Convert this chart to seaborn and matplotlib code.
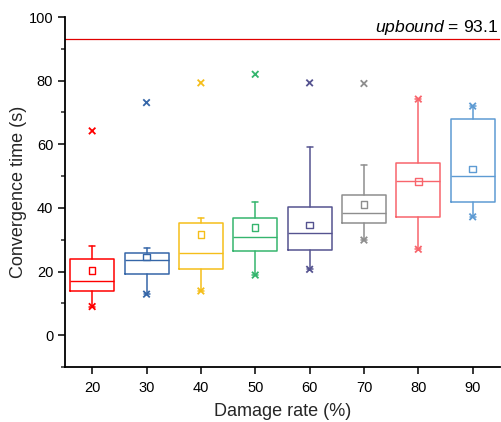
import matplotlib
matplotlib.use("Agg")
import matplotlib.pyplot as plt
import seaborn as sns
import pandas as pd

# Convergence time statistics for each damage rate (s)
rates = [20, 30, 40, 50, 60, 70, 80, 90]
q1 = [13.9, 19.1, 20.9, 26.5, 26.7, 35.2, 37.0, 41.9]
medians = [17.1, 23.6, 25.7, 30.9, 32.0, 38.4, 48.6, 49.9]
q3 = [23.8, 25.9, 35.4, 36.9, 40.3, 44.1, 54.0, 67.8]
means = [20.4, 24.6, 31.7, 33.9, 34.6, 41.0, 48.3, 52.2]
whisker_low = [9.0, 12.9, 13.9, 18.9, 20.7, 29.9, 27.0, 37.2]
whisker_high = [28.1, 27.5, 36.9, 41.9, 59.2, 53.5, 74.2, 72.0]
minimums = [9.0, 12.9, 13.9, 18.9, 20.7, 29.9, 27.0, 37.2]
maximums = [64.2, 73.1, 79.3, 82.0, 79.3, 79.1, 74.2, 72.0]
upbound = 93.1

colors = ["#FF0000", "#3566A8", "#F5BE1A", "#35B56E",
          "#555390", "#8E8E8E", "#F8656C", "#5E9BD3"]

sns.set_theme(style="ticks")
plt.rcParams["font.family"] = ["Liberation Sans", "DejaVu Sans"]
plt.rcParams["mathtext.fontset"] = "custom"
plt.rcParams["mathtext.rm"] = "Liberation Sans"
plt.rcParams["mathtext.it"] = "Liberation Sans:italic"

fig = plt.figure(figsize=(5.01, 4.22), dpi=100)
ax = fig.add_axes([0.1297, 0.1303, 0.868, 0.8294])

stats = []
for i, r in enumerate(rates):
    stats.append(dict(med=medians[i], q1=q1[i], q3=q3[i],
                      whislo=whisker_low[i], whishi=whisker_high[i],
                      mean=means[i], fliers=[], label=str(r)))

for i, (r, st) in enumerate(zip(rates, stats)):
    c = colors[i]
    ax.bxp([st], positions=[r], widths=8.1, showmeans=False,
           showfliers=False, capwidths=[1.1],
           boxprops=dict(color=c, linewidth=1.1),
           medianprops=dict(color=c, linewidth=1.0),
           whiskerprops=dict(color=c, linewidth=1.1),
           capprops=dict(color=c, linewidth=1.1),
           manage_ticks=False)

summary = pd.DataFrame({"rate": rates, "mean": means,
                        "min": minimums, "max": maximums})
palette = dict(zip(rates, colors))

# mean markers: open squares
for i, r in enumerate(rates):
    sns.scatterplot(x=[r], y=[means[i]], marker="s", s=22,
                    facecolors="none", edgecolors=colors[i],
                    linewidth=1.0, ax=ax, zorder=5)

# extreme values
for col in ["min", "max"]:
    sns.scatterplot(data=summary, x="rate", y=col, hue="rate",
                    palette=palette, marker="x", s=22, linewidth=1.3,
                    legend=False, ax=ax, zorder=5)

ax.axhline(upbound, color="#E00000", linewidth=0.9, zorder=1)
ax.text(94.8, 95.3, r"$\it{upbound}$ = " + f"{upbound}", ha="right",
        va="baseline", fontsize=12.6, color="black")

ax.set_xlim(15, 95)
ax.set_ylim(-10, 100)
ax.set_xticks(rates)
ax.set_xticklabels([str(r) for r in rates])
ax.set_yticks([0, 20, 40, 60, 80, 100])
ax.set_yticks([-10, 10, 30, 50, 70, 90], minor=True)
ax.set_xlabel("Damage rate (%)", fontsize=13)
ax.set_ylabel("Convergence time (s)", fontsize=13)
ax.tick_params(axis="both", which="major", labelsize=10.5, length=5,
               width=1.1, direction="out", colors="black")
ax.tick_params(axis="y", which="minor", length=3, width=1.1)
ax.tick_params(axis="x", which="major", pad=5)
ax.xaxis.labelpad = 6
ax.yaxis.labelpad = 1

for side in ["top", "right"]:
    ax.spines[side].set_visible(False)
for side in ["left", "bottom"]:
    ax.spines[side].set_linewidth(1.3)
    ax.spines[side].set_color("black")

fig.savefig("out.png", dpi=100)
